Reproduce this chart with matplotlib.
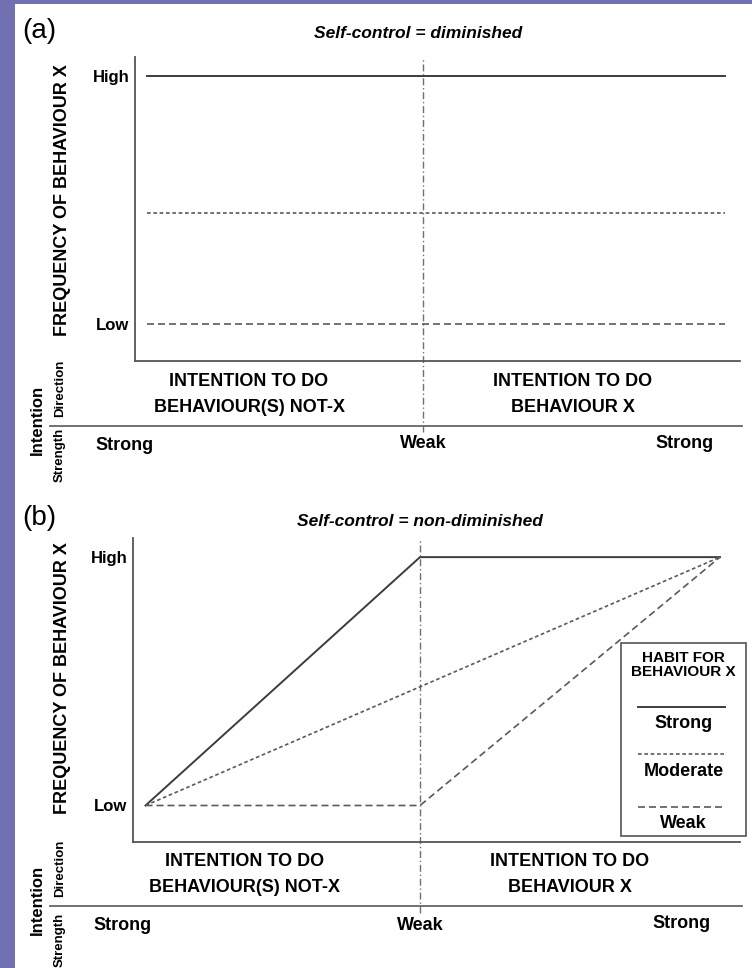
import numpy as np
import matplotlib
matplotlib.use("Agg")
import matplotlib.pyplot as plt
from matplotlib.lines import Line2D
from matplotlib.patches import Rectangle

plt.rcParams['font.family'] = ['Liberation Sans', 'DejaVu Sans']

# ---------------- data ----------------
# intention: -1 = strong intention to do not-X, 0 = weak, +1 = strong intention to do X
# frequency: 0 = Low, 1 = High
habit_levels = ["Strong", "Moderate", "Weak"]

a_x = [-1, 1]
a_strong = [1.0, 1.0]
a_moderate = [0.45, 0.45]
a_weak = [0.0, 0.0]

b_x_strong = [-1, 0, 1]
b_strong = [0.0, 1.0, 1.0]
b_x_moderate = [-1, 1]
b_moderate = [0.0, 1.0]
b_x_weak = [-1, 0, 1]
b_weak = [0.0, 0.0, 1.0]

y_ticks = [0, 1]
y_ticklabels = ["Low", "High"]
strength_labels = ["Strong", "Weak", "Strong"]
direction_left = "INTENTION TO DO\nBEHAVIOUR(S) NOT-X"
direction_right = "INTENTION TO DO\nBEHAVIOUR X"
ylabel = "FREQUENCY OF BEHAVIOUR X"
titles = ["Self-control = diminished", "Self-control = non-diminished"]
panel_tags = ["(a)", "(b)"]
legend_title = "HABIT FOR\nBEHAVIOUR X"

styles = {
    "Strong": dict(color="#3c3c3c", lw=1.4, ls="-"),
    "Moderate": dict(color="#5a5a5a", lw=1.2, ls=(0, (2.2, 1.6))),
    "Weak": dict(color="#5a5a5a", lw=1.2, ls=(0, (4.2, 2.4))),
}

W, H = 752, 968
fig = plt.figure(figsize=(W / 100, H / 100), dpi=100)
fig.patch.set_facecolor("white")

def fx(x):
    return x / W

def fy(y):
    return 1 - y / H

# purple frame strips
fig.patches.append(Rectangle((0, 0), fx(15), 1, transform=fig.transFigure,
                             facecolor="#7171b1", edgecolor="none", zorder=0))
fig.patches.append(Rectangle((0, fy(4)), 1, fy(0) - fy(4), transform=fig.transFigure,
                             facecolor="#7171b1", edgecolor="none", zorder=0))

# piecewise linear x scale (left half slightly compressed, as in the figure)
RATIO = 0.915
def fwd(x):
    x = np.asarray(x, dtype=float)
    return np.where(x < 0, x * RATIO, x)

def inv(x):
    x = np.asarray(x, dtype=float)
    return np.where(x < 0, x / RATIO, x)

YLIM = (-0.147, 1.077)
spine_col = "#555555"

def make_axes(left_px, right_px, top_px, bottom_px, weak_px, unit_px):
    ax = fig.add_axes([fx(left_px), fy(bottom_px), fx(right_px) - fx(left_px),
                       fy(top_px) - fy(bottom_px)])
    ax.set_xscale("function", functions=(fwd, inv))
    tl = (left_px - weak_px) / unit_px
    tr = (right_px - weak_px) / unit_px
    ax.set_xlim(tl / RATIO, tr)
    ax.set_ylim(*YLIM)
    for s in ["top", "right"]:
        ax.spines[s].set_visible(False)
    for s in ["left", "bottom"]:
        ax.spines[s].set_color(spine_col)
        ax.spines[s].set_linewidth(1.3)
    ax.set_xticks([])
    ax.set_yticks(y_ticks)
    ax.set_yticklabels(y_ticklabels, fontsize=12, fontweight="bold")
    ax.tick_params(axis="y", length=0, pad=4)
    ax.minorticks_off()
    ax.xaxis.set_minor_locator(matplotlib.ticker.NullLocator())
    ax.patch.set_alpha(0)
    ax.axvline(0, ymin=-0.234, ymax=1.0, clip_on=False, color="#707070",
               lw=1.0, ls=(0, (5, 2, 1, 2)))
    return ax

# ---------------- panel (a) ----------------
axa = make_axes(135, 740, 57, 361, 423, 302)
axa.plot(a_x, a_strong, **styles["Strong"])
axa.plot(a_x, a_moderate, **styles["Moderate"])
axa.plot(a_x, a_weak, **styles["Weak"])

# ---------------- panel (b) ----------------
axb = make_axes(133, 740, 538, 842, 420, 300)
axb.plot(b_x_strong, b_strong, **styles["Strong"])
axb.plot(b_x_moderate, b_moderate, **styles["Moderate"])
axb.plot(b_x_weak, b_weak, **styles["Weak"])

# legend box (manual: line above label)
lx0, lx1 = (621 - 133) / 607, (746 - 133) / 607
ly0, ly1 = (842 - 836) / 304, (842 - 643) / 304
axb.add_patch(Rectangle((lx0, ly0), lx1 - lx0, ly1 - ly0, transform=axb.transAxes,
                        facecolor="white", edgecolor="#555555", lw=1.2, clip_on=False,
                        zorder=5))
lcx = (lx0 + lx1) / 2
axb.text(lcx, (842 - 665) / 304, legend_title, transform=axb.transAxes, ha="center",
         va="center", fontsize=11, fontweight="bold", linespacing=0.95, zorder=6)
leg_line_y = [707, 754, 807]
leg_text_y = [723, 772, 824]
for lab, ly, ty in zip(habit_levels, leg_line_y, leg_text_y):
    st = dict(styles[lab])
    axb.add_line(Line2D([(638 - 133) / 607, (725 - 133) / 607],
                        [(842 - ly) / 304] * 2, transform=axb.transAxes,
                        clip_on=False, zorder=6, **st))
    axb.text(lcx, (842 - ty) / 304, lab, transform=axb.transAxes, ha="center",
             va="center", fontsize=13, fontweight="bold", zorder=6)

# ---------------- surrounding text ----------------
def ftext(x, y, s, **kw):
    fig.text(fx(x), fy(y), s, **kw)

def sep(y, x0=50, x1=742):
    fig.add_artist(Line2D([fx(x0), fx(x1)], [fy(y), fy(y)], transform=fig.transFigure,
                          color="#666666", lw=1.3))

panels = [
    dict(tag_y=31, title_x=418, title_y=33, ylab_y=200, dir_y=(381, 407),
         dir_lx=249, dir_rx=573, sep_y=426, str_y=(445, 443, 443),
         str_x=(125, 423, 685), int_y=420, direc_y=388, streng_y=455),
    dict(tag_y=518, title_x=420, title_y=522, ylab_y=678, dir_y=(861, 888),
         dir_lx=245, dir_rx=570, sep_y=906, str_y=(925, 925, 923),
         str_x=(123, 420, 682), int_y=900, direc_y=868, streng_y=940),
]
for i, p in enumerate(panels):
    ftext(22, p["tag_y"], panel_tags[i], fontsize=20, ha="left", va="center")
    ftext(p["title_x"], p["title_y"], titles[i], fontsize=12.5, fontweight="bold",
          fontstyle="italic", ha="center", va="center")
    ftext(63, p["ylab_y"], ylabel, fontsize=13, fontweight="bold", rotation=90,
          ha="center", va="center")
    l1, l2 = direction_left.split("\n")
    r1, r2 = direction_right.split("\n")
    ftext(p["dir_lx"], p["dir_y"][0], l1, fontsize=13, fontweight="bold", ha="center", va="center")
    ftext(p["dir_lx"], p["dir_y"][1], l2, fontsize=13, fontweight="bold", ha="center", va="center")
    ftext(p["dir_rx"], p["dir_y"][0], r1, fontsize=13, fontweight="bold", ha="center", va="center")
    ftext(p["dir_rx"], p["dir_y"][1], r2, fontsize=13, fontweight="bold", ha="center", va="center")
    sep(p["sep_y"])
    for s, x, y in zip(strength_labels, p["str_x"], p["str_y"]):
        ftext(x, y, s, fontsize=13, fontweight="bold", ha="center", va="center")
    ftext(37, p["int_y"], "Intention", fontsize=12, fontweight="bold", rotation=90,
          ha="center", va="center")
    ftext(60, p["direc_y"], "Direction", fontsize=9.5, fontweight="bold", rotation=90,
          ha="center", va="center")
    ftext(60, p["streng_y"], "Strength", fontsize=9.5, fontweight="bold", rotation=90,
          ha="center", va="center")

fig.savefig("out.png", dpi=100)
